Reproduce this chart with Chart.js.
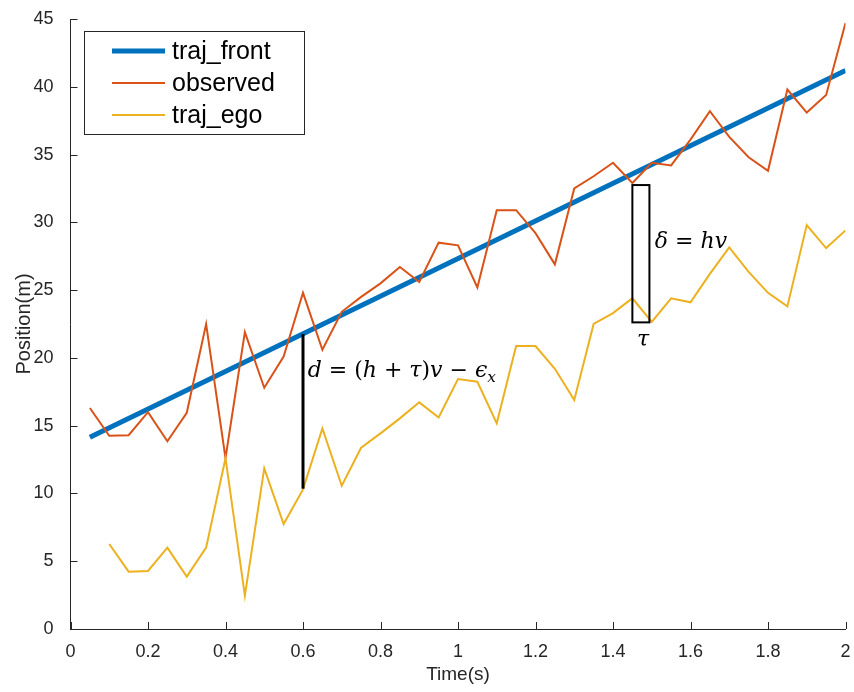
<!DOCTYPE html>
<html lang="en">
<head>
  <meta charset="UTF-8" />
  <title>Position vs Time</title>
  <script src="https://cdn.jsdelivr.net/npm/chart.js"></script>
  <style>
    body { margin: 0; background: #fff; }
    canvas { display: block; }
  </style>
</head>
<body>
  <canvas id="posChart" width="854" height="692"></canvas>

  <script>
    // data
    const frontTime = [0.05, 2];
    const frontPos  = [14.15, 41.2];

    const obsTime = [0.05, 0.1, 0.15, 0.2, 0.25, 0.3, 0.35, 0.4, 0.45, 0.5,
                     0.55, 0.6, 0.65, 0.7, 0.75, 0.8, 0.85, 0.9, 0.95, 1,
                     1.05, 1.1, 1.15, 1.2, 1.25, 1.3, 1.35, 1.4, 1.45, 1.5,
                     1.55, 1.6, 1.65, 1.7, 1.75, 1.8, 1.85, 1.9, 1.95, 2];
    const observed = [16.3, 14.25, 14.3, 16.0, 13.85, 15.95, 22.5, 12.6, 21.9, 17.8,
                      20.1, 24.8, 20.6, 23.4, 24.5, 25.5, 26.7, 25.6, 28.5, 28.3,
                      25.2, 30.9, 30.9, 29.2, 26.9, 32.5, 33.4, 34.4, 32.9, 34.4,
                      34.2, 36.1, 38.2, 36.3, 34.8, 33.8, 39.8, 38.1, 39.4, 44.7];

    const egoTime = obsTime.slice(1);
    const egoPos = [6.27, 4.23, 4.28, 6.0, 3.86, 6.0, 12.6, 2.46, 11.85,
                    7.74, 10.3, 14.8, 10.57, 13.37, 14.43, 15.54, 16.72, 15.6, 18.44,
                    18.24, 15.17, 20.87, 20.87, 19.2, 16.9, 22.5, 23.3, 24.4, 22.66,
                    24.4, 24.1, 26.2, 28.15, 26.35, 24.8, 23.8, 29.8, 28.1, 29.4];

    const seriesNames  = ['traj_front', 'observed', 'traj_ego'];
    const seriesColors = ['#0072BD', '#D95319', '#EDB120'];
    const seriesWidths = [5, 2, 2];

    const axisColor = '#262626';
    const sans = 'Liberation Sans, Arial, sans-serif';
    const tickFont = { family: sans, size: 18 };

    function pts(xs, ys) {
      return xs.map((x, i) => ({ x: x, y: ys[i] }));
    }

    // draw a run of math text, pieces = [text, italic, subscript]
    function drawMath(ctx, pieces, x, y, size) {
      let cx = x;
      pieces.forEach(p => {
        const sz = p[2] ? size * 0.7 : size;
        ctx.font = (p[1] ? 'italic ' : '') + sz + 'px "DejaVu Serif", "Liberation Serif", serif';
        ctx.fillText(p[0], cx, p[2] ? y + size * 0.25 : y);
        cx += ctx.measureText(p[0]).width;
      });
    }

    const extras = {
      id: 'extras',
      afterDatasetsDraw(chart) {
        const { ctx, chartArea } = chart;
        const xs = chart.scales.x, ys = chart.scales.y;
        ctx.save();

        // inward tick marks
        ctx.strokeStyle = axisColor;
        ctx.lineWidth = 1;
        xs.ticks.forEach(t => {
          const px = Math.round(xs.getPixelForValue(t.value)) + 0.5;
          ctx.beginPath();
          ctx.moveTo(px, chartArea.bottom);
          ctx.lineTo(px, chartArea.bottom - 7);
          ctx.stroke();
        });
        ys.ticks.forEach(t => {
          const py = Math.round(ys.getPixelForValue(t.value)) + 0.5;
          ctx.beginPath();
          ctx.moveTo(chartArea.left, py);
          ctx.lineTo(chartArea.left + 7, py);
          ctx.stroke();
        });

        // gap d at t = 0.6
        ctx.strokeStyle = '#000';
        ctx.lineWidth = 3;
        ctx.beginPath();
        ctx.moveTo(xs.getPixelForValue(0.6), ys.getPixelForValue(21.75));
        ctx.lineTo(xs.getPixelForValue(0.6), ys.getPixelForValue(10.35));
        ctx.stroke();

        // box for delta
        ctx.lineWidth = 2;
        const rx0 = xs.getPixelForValue(1.45), rx1 = xs.getPixelForValue(1.494);
        const ry0 = ys.getPixelForValue(32.75), ry1 = ys.getPixelForValue(22.62);
        ctx.strokeRect(rx0, ry0, rx1 - rx0, ry1 - ry0);

        ctx.fillStyle = '#000';
        ctx.textBaseline = 'alphabetic';
        ctx.textAlign = 'left';
        drawMath(ctx, [['d', true], [' = (', false], ['h', true], [' + ', false], ['τ', true],
                       [')', false], ['v', true], [' − ', false], ['ϵ', true], ['x', true, true]],
                 xs.getPixelForValue(0.612), ys.getPixelForValue(18.6), 22);
        drawMath(ctx, [['δ', true], [' = ', false], ['h', true], ['v', true]],
                 xs.getPixelForValue(1.508), ys.getPixelForValue(28.1), 22);
        drawMath(ctx, [['τ', true]], xs.getPixelForValue(1.462), ys.getPixelForValue(20.85), 22);

        ctx.restore();
      },
      afterDraw(chart) {
        // legend box, MATLAB style
        const ctx = chart.ctx;
        ctx.save();
        ctx.fillStyle = '#fff';
        ctx.fillRect(84.5, 31.5, 220, 103);
        ctx.strokeStyle = axisColor;
        ctx.lineWidth = 1;
        ctx.strokeRect(84.5, 31.5, 220, 103);
        const rows = [51, 83, 115];
        ctx.font = '25px ' + sans;
        ctx.textBaseline = 'middle';
        ctx.textAlign = 'left';
        seriesNames.forEach((name, i) => {
          ctx.strokeStyle = seriesColors[i];
          ctx.lineWidth = seriesWidths[i];
          ctx.beginPath();
          ctx.moveTo(112, rows[i]);
          ctx.lineTo(165, rows[i]);
          ctx.stroke();
          ctx.fillStyle = '#000';
          ctx.fillText(name, 172, rows[i] + 1);
        });
        ctx.restore();
      }
    };

    const datasets = [pts(frontTime, frontPos), pts(obsTime, observed), pts(egoTime, egoPos)]
      .map((d, i) => ({
        label: seriesNames[i],
        data: d,
        borderColor: seriesColors[i],
        backgroundColor: seriesColors[i],
        borderWidth: seriesWidths[i],
        pointRadius: 0,
        tension: 0,
        order: 3 - i
      }));

    new Chart(document.getElementById('posChart').getContext('2d'), {
      type: 'line',
      data: { datasets },
      options: {
        responsive: false,
        animation: false,
        layout: { padding: { top: 19, right: 8.5, left: 0, bottom: 0 } },
        plugins: { legend: { display: false }, tooltip: { enabled: false } },
        scales: {
          x: {
            type: 'linear', min: 0, max: 2,
            ticks: {
              stepSize: 0.2, padding: 4, color: axisColor, font: tickFont, maxRotation: 0,
              callback: v => String(+v.toFixed(1))
            },
            grid: { display: false },
            border: { color: axisColor, width: 1 },
            title: { display: true, text: 'Time(s)', color: axisColor, font: { family: sans, size: 19 }, padding: { top: 0, bottom: 6 } },
            afterFit: s => { s.height = 63; s.paddingLeft = 0; s.paddingRight = 0; }
          },
          y: {
            min: 0, max: 45,
            ticks: { stepSize: 5, padding: 9, color: axisColor, font: tickFont },
            grid: { display: false },
            border: { color: axisColor, width: 1 },
            title: { display: true, text: 'Position(m)', color: axisColor, font: { family: sans, size: 20 }, padding: { top: 12, bottom: 0 } },
            afterFit: s => { s.width = 70.5; s.paddingTop = 0; s.paddingBottom = 0; }
          }
        }
      },
      plugins: [extras]
    });
  </script>
</body>
</html>
